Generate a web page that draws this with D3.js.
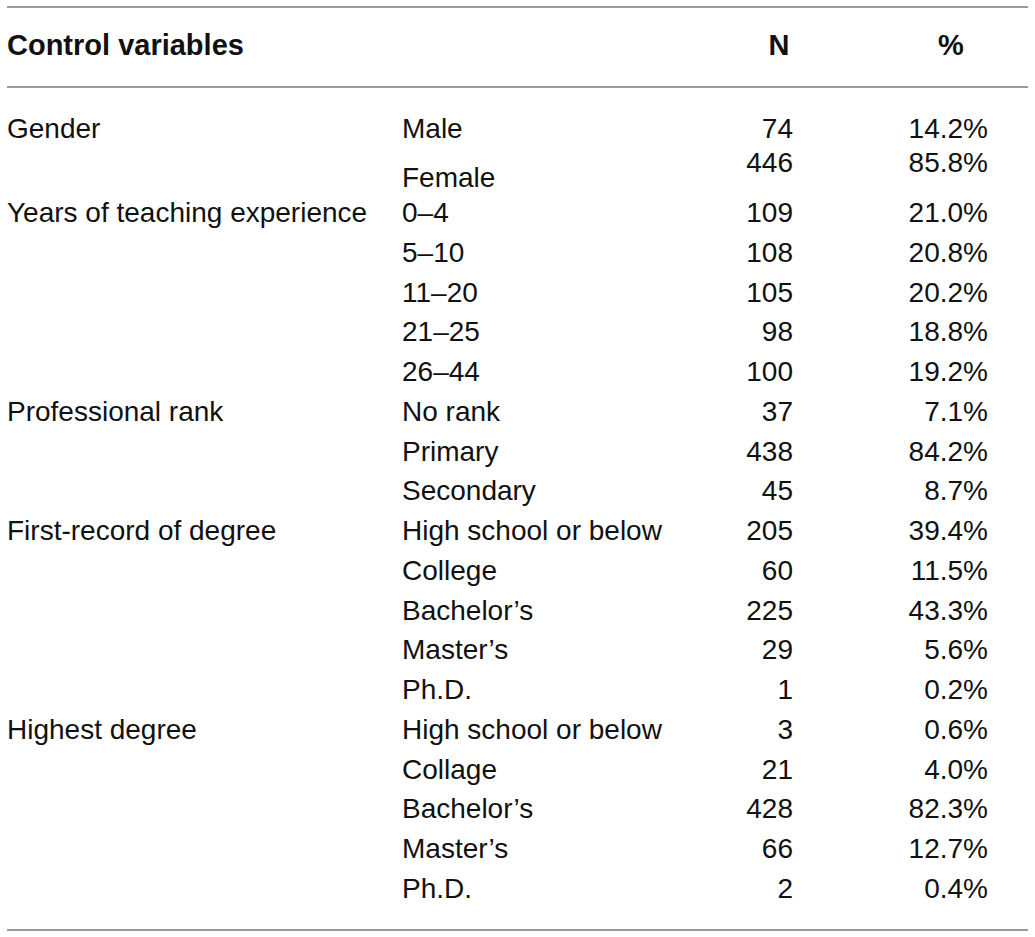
<!DOCTYPE html>
<html>
<head>
<meta charset="utf-8">
<script src="https://cdn.jsdelivr.net/npm/d3@7"></script>
<style>
  html, body { margin: 0; padding: 0; background: #fff; }
  text { font-family: "Liberation Sans", Arial, Helvetica, sans-serif; fill: #111; }
</style>
</head>
<body>
<svg id="table" width="1035" height="937"></svg>
<script>
// column headers
var headers = ['Control variables', 'N', '%'];

// groups (first column), one entry per group
var groups = ['Gender', 'Years of teaching experience', 'Professional rank', 'First-record of degree', 'Highest degree'];

// categories, counts and shares, one entry per row
var rowGroup = [0, 0, 1, 1, 1, 1, 1, 2, 2, 2, 3, 3, 3, 3, 3, 4, 4, 4, 4, 4];
var categories = ['Male', 'Female', '0–4', '5–10', '11–20', '21–25', '26–44', 'No rank', 'Primary', 'Secondary',
  'High school or below', 'College', 'Bachelor’s', 'Master’s', 'Ph.D.',
  'High school or below', 'Collage', 'Bachelor’s', 'Master’s', 'Ph.D.'];
var counts = [74, 446, 109, 108, 105, 98, 100, 37, 438, 45, 205, 60, 225, 29, 1, 3, 21, 428, 66, 2];
var shares = ['14.2%', '85.8%', '21.0%', '20.8%', '20.2%', '18.8%', '19.2%', '7.1%', '84.2%', '8.7%',
  '39.4%', '11.5%', '43.3%', '5.6%', '0.2%', '0.6%', '4.0%', '82.3%', '12.7%', '0.4%'];

//=======================
// layout
//=======================
var fontSize = 28;
var headSize = 29;
var ruleColor = '#9b9b9b';

var svg = d3.select('#table');

// columns: x positions (group label left, category left, N right, % right)
var x = d3.scaleOrdinal()
  .domain(['group', 'cat', 'n', 'pct'])
  .range([7, 402, 793, 988]);

// rows: baseline of each row index (Gender block sits a bit off the grid)
var y = d3.scaleLinear().domain([2, categories.length - 1]).range([222, 898]);
var genderNudge = { label: [-4.5, 5], value: [-4.5, -10] };

function rowY (i, kind) {
  var base = y(i);
  if (i < 2) base += genderNudge[kind][i];
  return base;
}

// rules
var rules = [7, 87, 930];
svg.selectAll('line.rule')
  .data(rules)
  .enter()
  .append('line')
    .attr('class', 'rule')
    .attr('x1', 7)
    .attr('x2', 1028)
    .attr('y1', function (d) { return d; })
    .attr('y2', function (d) { return d; })
    .style('stroke', ruleColor)
    .style('stroke-width', 2);

// header
var headerY = 55;
svg.append('text')
  .attr('x', x('group'))
  .attr('y', headerY)
  .style('font-size', headSize + 'px')
  .style('font-weight', 'bold')
  .text(headers[0]);
svg.append('text')
  .attr('x', 779)
  .attr('y', headerY)
  .attr('text-anchor', 'middle')
  .style('font-size', headSize + 'px')
  .style('font-weight', 'bold')
  .text(headers[1]);
svg.append('text')
  .attr('x', 951)
  .attr('y', headerY)
  .attr('text-anchor', 'middle')
  .style('font-size', headSize + 'px')
  .style('font-weight', 'bold')
  .text(headers[2]);

// group labels: on the first row of each group
var firstRow = groups.map(function (g, gi) { return rowGroup.indexOf(gi); });
svg.selectAll('text.group')
  .data(groups)
  .enter()
  .append('text')
    .attr('class', 'group')
    .attr('x', x('group'))
    .attr('y', function (d, i) { return rowY(firstRow[i], 'label'); })
    .style('font-size', fontSize + 'px')
    .text(function (d) { return d; });

var rows = d3.range(categories.length);

svg.selectAll('text.cat')
  .data(rows)
  .enter()
  .append('text')
    .attr('class', 'cat')
    .attr('x', x('cat'))
    .attr('y', function (i) { return rowY(i, 'label'); })
    .style('font-size', fontSize + 'px')
    .text(function (i) { return categories[i]; });

svg.selectAll('text.n')
  .data(rows)
  .enter()
  .append('text')
    .attr('class', 'n')
    .attr('x', x('n'))
    .attr('y', function (i) { return rowY(i, 'value'); })
    .attr('text-anchor', 'end')
    .style('font-size', fontSize + 'px')
    .text(function (i) { return counts[i]; });

svg.selectAll('text.pct')
  .data(rows)
  .enter()
  .append('text')
    .attr('class', 'pct')
    .attr('x', x('pct'))
    .attr('y', function (i) { return rowY(i, 'value'); })
    .attr('text-anchor', 'end')
    .style('font-size', fontSize + 'px')
    .text(function (i) { return shares[i]; });
</script>
</body>
</html>
